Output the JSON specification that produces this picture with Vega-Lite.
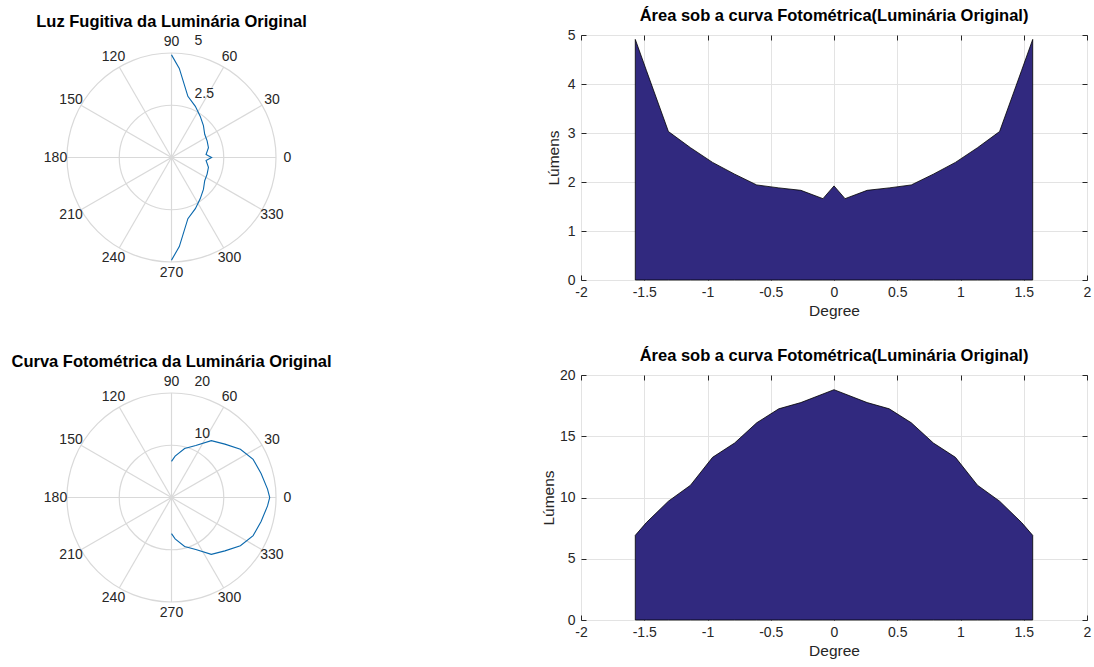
{
  "$schema": "https://vega.github.io/schema/vega-lite/v6.json",
  "background": "white",
  "padding": {"left": 11, "top": 7, "right": 0, "bottom": 0},
  "config": {
    "font": "Liberation Sans",
    "view": {"stroke": null},
    "title": {"font": "Liberation Sans", "fontWeight": "bold", "color": "#000000", "fontSize": 16.5, "frame": "group", "offset": 4},
    "axis": {"labelFont": "Liberation Sans", "titleFont": "Liberation Sans", "labelColor": "#262626", "titleColor": "#262626", "titleFontWeight": "normal"}
  },
  "datasets": {
    "luz": [
      {"theta": -1.5708, "v": 4.91}, {"theta": -1.4835, "v": 4.28}, {"theta": -1.309, "v": 3.03},
      {"theta": -1.1345, "v": 2.7}, {"theta": -0.9599, "v": 2.4}, {"theta": -0.7854, "v": 2.16},
      {"theta": -0.6109, "v": 1.94}, {"theta": -0.4363, "v": 1.88}, {"theta": -0.2618, "v": 1.83},
      {"theta": -0.0873, "v": 1.66}, {"theta": 0, "v": 1.92}, {"theta": 0.0873, "v": 1.66},
      {"theta": 0.2618, "v": 1.83}, {"theta": 0.4363, "v": 1.88}, {"theta": 0.6109, "v": 1.94},
      {"theta": 0.7854, "v": 2.16}, {"theta": 0.9599, "v": 2.4}, {"theta": 1.1345, "v": 2.7},
      {"theta": 1.309, "v": 3.03}, {"theta": 1.4835, "v": 4.28}, {"theta": 1.5708, "v": 4.91}
    ],
    "curva": [
      {"theta": -1.5708, "v": 6.91}, {"theta": -1.4835, "v": 7.95}, {"theta": -1.309, "v": 9.7},
      {"theta": -1.1345, "v": 11.0}, {"theta": -0.9599, "v": 13.28}, {"theta": -0.7854, "v": 14.45},
      {"theta": -0.6109, "v": 16.1}, {"theta": -0.4363, "v": 17.24}, {"theta": -0.2618, "v": 17.75},
      {"theta": -0.0873, "v": 18.45}, {"theta": 0, "v": 18.8}, {"theta": 0.0873, "v": 18.45},
      {"theta": 0.2618, "v": 17.75}, {"theta": 0.4363, "v": 17.24}, {"theta": 0.6109, "v": 16.1},
      {"theta": 0.7854, "v": 14.45}, {"theta": 0.9599, "v": 13.28}, {"theta": 1.1345, "v": 11.0},
      {"theta": 1.309, "v": 9.7}, {"theta": 1.4835, "v": 7.95}, {"theta": 1.5708, "v": 6.91}
    ],
    "spokes": [{"a": 0}, {"a": 30}, {"a": 60}, {"a": 90}, {"a": 120}, {"a": 150}],
    "angles": [
      {"a": 0, "label": "0"}, {"a": 30, "label": "30"}, {"a": 60, "label": "60"}, {"a": 90, "label": "90"},
      {"a": 120, "label": "120"}, {"a": 150, "label": "150"}, {"a": 180, "label": "180"}, {"a": 210, "label": "210"},
      {"a": 240, "label": "240"}, {"a": 270, "label": "270"}, {"a": 300, "label": "300"}, {"a": 330, "label": "330"}
    ],
    "ringsTop": [{"r": 2.5, "label": "2.5"}, {"r": 5, "label": "5"}],
    "ringsBottom": [{"r": 10, "label": "10"}, {"r": 20, "label": "20"}]
  },
  "columns": 2,
  "spacing": {"row": 95, "column": 287},
  "bounds": "flush",
  "concat": [
    {
      "width": 245, "height": 245,
      "title": {"text": "Luz Fugitiva da Luminária Original"},
      "layer": [
        {
          "data": {"name": "ringsTop"},
          "mark": {"type": "arc", "theta": 0, "theta2": 6.2832, "filled": false, "color": "#d9d9d9", "strokeWidth": 1.2},
          "encoding": {"radius": {"field": "r", "type": "quantitative", "stack": null, "scale": {"type": "linear", "domain": [0, 5.861], "range": [0, 122.5], "nice": false, "zero": true}}}
        },
        {
          "data": {"name": "spokes"},
          "transform": [
            {"calculate": "5*cos(datum.a*PI/180)", "as": "x1"},
            {"calculate": "5*sin(datum.a*PI/180)", "as": "y1"},
            {"calculate": "-datum.x1", "as": "x2"},
            {"calculate": "-datum.y1", "as": "y2"}
          ],
          "mark": {"type": "rule", "color": "#d9d9d9", "strokeWidth": 1.2},
          "encoding": {
            "x": {"field": "x1", "type": "quantitative", "scale": {"domain": [-5.861, 5.861], "nice": false, "zero": false}, "axis": null},
            "x2": {"field": "x2"},
            "y": {"field": "y1", "type": "quantitative", "scale": {"domain": [-5.861, 5.861], "nice": false, "zero": false}, "axis": null},
            "y2": {"field": "y2"}
          }
        },
        {
          "data": {"name": "luz"},
          "transform": [
            {"calculate": "datum.v*cos(datum.theta)", "as": "px"},
            {"calculate": "datum.v*sin(datum.theta)", "as": "py"}
          ],
          "mark": {"type": "line", "color": "#0a68ad", "strokeWidth": 1.1},
          "encoding": {
            "x": {"field": "px", "type": "quantitative", "scale": {"domain": [-5.861, 5.861], "nice": false, "zero": false}, "axis": null},
            "y": {"field": "py", "type": "quantitative", "scale": {"domain": [-5.861, 5.861], "nice": false, "zero": false}, "axis": null},
            "order": {"field": "theta", "type": "quantitative"}
          }
        },
        {
          "data": {"name": "angles"},
          "transform": [
            {"calculate": "5.55*cos(datum.a*PI/180)", "as": "lx"},
            {"calculate": "5.55*sin(datum.a*PI/180)", "as": "ly"}
          ],
          "mark": {"type": "text", "fontSize": 14, "color": "#262626", "align": "center", "baseline": "middle"},
          "encoding": {
            "x": {"field": "lx", "type": "quantitative", "scale": {"domain": [-5.861, 5.861], "nice": false, "zero": false}, "axis": null},
            "y": {"field": "ly", "type": "quantitative", "scale": {"domain": [-5.861, 5.861], "nice": false, "zero": false}, "axis": null},
            "text": {"field": "label"}
          }
        },
        {
          "data": {"name": "ringsTop"},
          "transform": [{"calculate": "0", "as": "zx"}],
          "mark": {"type": "text", "fontSize": 14, "color": "#262626", "align": "left", "baseline": "middle", "dx": 23, "dy": -11.5},
          "encoding": {
            "x": {"field": "zx", "type": "quantitative", "scale": {"domain": [-5.861, 5.861], "nice": false, "zero": false}, "axis": null},
            "y": {"field": "r", "type": "quantitative", "scale": {"domain": [-5.861, 5.861], "nice": false, "zero": false}, "axis": null},
            "text": {"field": "label"}
          }
        }
      ]
    },
    {
      "width": 506, "height": 245,
      "title": {"text": "Área sob a curva Fotométrica(Luminária Original)"},
      "data": {"name": "luz"},
      "layer": [
        {
          "mark": {"type": "area", "color": "#31297f", "stroke": "#000000", "strokeWidth": 0.8},
          "encoding": {
            "x": {"field": "theta", "type": "quantitative", "scale": {"domain": [-2, 2], "nice": false, "zero": false},
              "axis": {"orient": "bottom", "values": [-2, -1.5, -1, -0.5, 0, 0.5, 1, 1.5, 2], "labelExpr": "toString(datum.value)", "grid": true, "gridColor": "#e3e3e3", "domain": false, "tickColor": "#262626", "tickSize": -5, "labelPadding": 10, "labelFontSize": 14, "title": "Degree", "titleFontSize": 15.5, "titlePadding": 4, "labelFlush": false}},
            "y": {"field": "v", "type": "quantitative", "scale": {"domain": [0, 5], "nice": false},
              "axis": {"orient": "left", "values": [0, 1, 2, 3, 4, 5], "grid": true, "gridColor": "#e3e3e3", "domain": false, "tickColor": "#262626", "tickSize": -5, "labelPadding": 11, "labelFontSize": 14, "title": "Lúmens", "titleFontSize": 15.5, "titlePadding": 6, "labelFlush": false}}
          }
        },
        {
          "mark": {"type": "point", "opacity": 0},
          "encoding": {
            "x": {"field": "theta", "type": "quantitative", "scale": {"domain": [-2, 2], "nice": false, "zero": false},
              "axis": {"orient": "top", "values": [-2, -1.5, -1, -0.5, 0, 0.5, 1, 1.5, 2], "labels": false, "grid": false, "domain": false, "tickColor": "#262626", "tickSize": -5, "title": null}},
            "y": {"field": "v", "type": "quantitative", "scale": {"domain": [0, 5], "nice": false},
              "axis": {"orient": "right", "values": [0, 1, 2, 3, 4, 5], "labels": false, "grid": false, "domain": false, "tickColor": "#262626", "tickSize": -5, "title": null}}
          }
        }
      ],
      "resolve": {"axis": {"x": "independent", "y": "independent"}},
      "view": {"stroke": "#7a7a7a", "strokeWidth": 1}
    },
    {
      "width": 245, "height": 245,
      "title": {"text": "Curva Fotométrica da Luminária Original"},
      "layer": [
        {
          "data": {"name": "ringsBottom"},
          "mark": {"type": "arc", "theta": 0, "theta2": 6.2832, "filled": false, "color": "#d9d9d9", "strokeWidth": 1.2},
          "encoding": {"radius": {"field": "r", "type": "quantitative", "stack": null, "scale": {"type": "linear", "domain": [0, 23.445], "range": [0, 122.5], "nice": false, "zero": true}}}
        },
        {
          "data": {"name": "spokes"},
          "transform": [
            {"calculate": "20*cos(datum.a*PI/180)", "as": "x1"},
            {"calculate": "20*sin(datum.a*PI/180)", "as": "y1"},
            {"calculate": "-datum.x1", "as": "x2"},
            {"calculate": "-datum.y1", "as": "y2"}
          ],
          "mark": {"type": "rule", "color": "#d9d9d9", "strokeWidth": 1.2},
          "encoding": {
            "x": {"field": "x1", "type": "quantitative", "scale": {"domain": [-23.445, 23.445], "nice": false, "zero": false}, "axis": null},
            "x2": {"field": "x2"},
            "y": {"field": "y1", "type": "quantitative", "scale": {"domain": [-23.445, 23.445], "nice": false, "zero": false}, "axis": null},
            "y2": {"field": "y2"}
          }
        },
        {
          "data": {"name": "curva"},
          "transform": [
            {"calculate": "datum.v*cos(datum.theta)", "as": "px"},
            {"calculate": "datum.v*sin(datum.theta)", "as": "py"}
          ],
          "mark": {"type": "line", "color": "#0a68ad", "strokeWidth": 1.1},
          "encoding": {
            "x": {"field": "px", "type": "quantitative", "scale": {"domain": [-23.445, 23.445], "nice": false, "zero": false}, "axis": null},
            "y": {"field": "py", "type": "quantitative", "scale": {"domain": [-23.445, 23.445], "nice": false, "zero": false}, "axis": null},
            "order": {"field": "theta", "type": "quantitative"}
          }
        },
        {
          "data": {"name": "angles"},
          "transform": [
            {"calculate": "22.2*cos(datum.a*PI/180)", "as": "lx"},
            {"calculate": "22.2*sin(datum.a*PI/180)", "as": "ly"}
          ],
          "mark": {"type": "text", "fontSize": 14, "color": "#262626", "align": "center", "baseline": "middle"},
          "encoding": {
            "x": {"field": "lx", "type": "quantitative", "scale": {"domain": [-23.445, 23.445], "nice": false, "zero": false}, "axis": null},
            "y": {"field": "ly", "type": "quantitative", "scale": {"domain": [-23.445, 23.445], "nice": false, "zero": false}, "axis": null},
            "text": {"field": "label"}
          }
        },
        {
          "data": {"name": "ringsBottom"},
          "transform": [{"calculate": "0", "as": "zx"}],
          "mark": {"type": "text", "fontSize": 14, "color": "#262626", "align": "left", "baseline": "middle", "dx": 23, "dy": -11.5},
          "encoding": {
            "x": {"field": "zx", "type": "quantitative", "scale": {"domain": [-23.445, 23.445], "nice": false, "zero": false}, "axis": null},
            "y": {"field": "r", "type": "quantitative", "scale": {"domain": [-23.445, 23.445], "nice": false, "zero": false}, "axis": null},
            "text": {"field": "label"}
          }
        }
      ]
    },
    {
      "width": 506, "height": 245,
      "title": {"text": "Área sob a curva Fotométrica(Luminária Original)"},
      "data": {"name": "curva"},
      "layer": [
        {
          "mark": {"type": "area", "color": "#31297f", "stroke": "#000000", "strokeWidth": 0.8},
          "encoding": {
            "x": {"field": "theta", "type": "quantitative", "scale": {"domain": [-2, 2], "nice": false, "zero": false},
              "axis": {"orient": "bottom", "values": [-2, -1.5, -1, -0.5, 0, 0.5, 1, 1.5, 2], "labelExpr": "toString(datum.value)", "grid": true, "gridColor": "#e3e3e3", "domain": false, "tickColor": "#262626", "tickSize": -5, "labelPadding": 10, "labelFontSize": 14, "title": "Degree", "titleFontSize": 15.5, "titlePadding": 4, "labelFlush": false}},
            "y": {"field": "v", "type": "quantitative", "scale": {"domain": [0, 20], "nice": false},
              "axis": {"orient": "left", "values": [0, 5, 10, 15, 20], "grid": true, "gridColor": "#e3e3e3", "domain": false, "tickColor": "#262626", "tickSize": -5, "labelPadding": 11, "labelFontSize": 14, "title": "Lúmens", "titleFontSize": 15.5, "titlePadding": 3, "labelFlush": false}}
          }
        },
        {
          "mark": {"type": "point", "opacity": 0},
          "encoding": {
            "x": {"field": "theta", "type": "quantitative", "scale": {"domain": [-2, 2], "nice": false, "zero": false},
              "axis": {"orient": "top", "values": [-2, -1.5, -1, -0.5, 0, 0.5, 1, 1.5, 2], "labels": false, "grid": false, "domain": false, "tickColor": "#262626", "tickSize": -5, "title": null}},
            "y": {"field": "v", "type": "quantitative", "scale": {"domain": [0, 20], "nice": false},
              "axis": {"orient": "right", "values": [0, 5, 10, 15, 20], "labels": false, "grid": false, "domain": false, "tickColor": "#262626", "tickSize": -5, "title": null}}
          }
        }
      ],
      "resolve": {"axis": {"x": "independent", "y": "independent"}},
      "view": {"stroke": "#7a7a7a", "strokeWidth": 1}
    }
  ]
}
